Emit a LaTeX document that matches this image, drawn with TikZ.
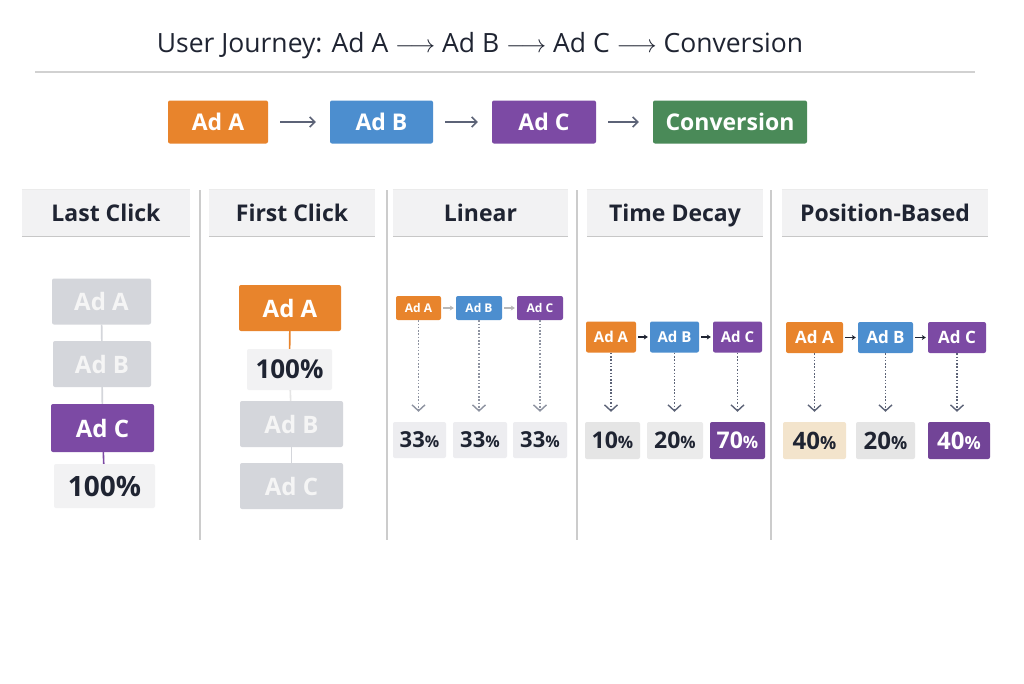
\documentclass[tikz,border=0pt]{standalone}
\usepackage{fontspec}
\setmainfont{Open Sans}
\usetikzlibrary{arrows.meta}

\definecolor{adorange}{HTML}{E8842C}
\definecolor{adblue}{HTML}{4C8ECF}
\definecolor{adpurple}{HTML}{7C4AA4}
\definecolor{convgreen}{HTML}{4A8A58}
\definecolor{idle}{HTML}{D4D6DB}
\definecolor{headgray}{HTML}{F2F2F3}
\definecolor{pctgray}{HTML}{EDEDF0}
\definecolor{beige}{HTML}{F3E4CC}
\definecolor{ink}{HTML}{1F2432}
\definecolor{arrowgray}{HTML}{5C6377}

\newcommand\smallpct[1]{{\fontsize{#1}{#1}\selectfont\%}}

\begin{document}
\begin{tikzpicture}[x=1pt,y=-1pt,
    ad/.style={rounded corners=2pt,inner sep=0pt,text=white},
    top/.style={ad,minimum height=43pt,font=\fontsize{23}{25}\selectfont\bfseries},
    big/.style={ad,minimum width=102pt,minimum height=46pt,font=\fontsize{24}{26}\selectfont\bfseries},
    mini/.style={ad,minimum height=24pt,font=\fontsize{12}{13}\selectfont\bfseries},
    small/.style={ad,minimum height=31pt,font=\fontsize{15}{16}\selectfont\bfseries},
    pct/.style={rounded corners=2pt,inner sep=0pt,fill=pctgray,text=ink,minimum height=37pt,font=\fontsize{23}{25}\selectfont\bfseries},
    head/.style={fill=headgray,text=ink,minimum height=46pt,inner sep=0pt,text height=18pt,text depth=1.6pt,font=\fontsize{23}{25}\selectfont\bfseries},
    flow/.style={draw=arrowgray,line width=1.6pt,-{Straight Barb[length=5pt,width=10pt]},shorten <=12pt,shorten >=14pt},
    hop/.style={line width=1.3pt,-{Stealth[length=4pt,width=5pt]},shorten <=2pt,shorten >=2pt},
    drop/.style={line width=1.2pt,dash pattern=on 1.5pt off 1.8pt,-{Straight Barb[length=6pt,width=13pt,line width=1.4pt]},shorten >=10pt},
    tail/.style={line width=1.6pt,draw=idle}]

  \useasboundingbox (0,0) rectangle (1024,683);
  \fill[white] (0,0) rectangle (1024,683);

  % journey
  \node (title) at (480,46) [font=\fontsize{26.5}{29}\selectfont,text=ink]
    {User Journey: Ad A $\longrightarrow$ Ad B $\longrightarrow$ Ad C $\longrightarrow$ Conversion};
  \draw[draw=black!18,line width=1.2pt] (35,72) -- (975,72);

  \node (jA) at (218,122) [top,fill=adorange,minimum width=100pt] {Ad A};
  \node (jB) at (381.5,122) [top,fill=adblue,minimum width=103pt] {Ad B};
  \node (jC) at (544,122) [top,fill=adpurple,minimum width=104pt] {Ad C};
  \node (jConv) at (730,122) [top,fill=convgreen,minimum width=154pt] {Conversion};
  \draw[flow] (jA) -- (jB);
  \draw[flow] (jB) -- (jC);
  \draw[flow] (jC) -- (jConv);

  % column heads
  \node (hLast) at (106,213) [head,minimum width=168pt] {Last Click};
  \node (hFirst) at (292,213) [head,minimum width=166pt] {First Click};
  \node (hLin) at (480.5,213) [head,minimum width=175pt] {Linear};
  \node (hTime) at (675,213) [head,minimum width=176pt] {Time Decay};
  \node (hPos) at (885,213) [head,minimum width=206pt] {Position-Based};
  \foreach \h in {hLast,hFirst,hLin,hTime,hPos}{
    \draw[draw=black!22,line width=1.2pt] (\h.south west) -- (\h.south east);
    \draw[draw=black!8,line width=1pt] (\h.north west) -- (\h.north east);
  }
  \foreach \x in {200,387,577,771}
    \draw[draw=black!20,line width=1.2pt] (\x,190) -- (\x,540);

  % last click
  \node (lA) at (101.5,301.5) [big,fill=idle,text=white!96!black,minimum width=99pt] {Ad A};
  \node (lB) at (102,364) [big,fill=idle,text=white!96!black,minimum width=98pt] {Ad B};
  \node (lC) at (102.5,428) [big,fill=adpurple,minimum width=103pt,minimum height=48pt] {Ad C};
  \node (lP) at (104.5,486) [pct,fill=headgray,minimum width=101pt,minimum height=44pt,font=\fontsize{28}{30}\selectfont\bfseries] {100\%};
  \draw[tail] (lA) -- (lB);
  \draw[tail] (lB) -- (lC);
  \draw[tail,draw=adpurple] (lC) -- (lP);

  % first click
  \node (fA) at (290,308) [big,fill=adorange] {Ad A};
  \node (fP) at (289.5,369.5) [pct,fill=headgray,minimum width=85pt,minimum height=41pt,font=\fontsize{26}{28}\selectfont\bfseries] {100\%};
  \node (fB) at (291.5,424) [big,fill=idle,text=white!96!black,minimum width=103pt] {Ad B};
  \node (fC) at (291.5,486) [big,fill=idle,text=white!96!black,minimum width=103pt] {Ad C};
  \draw[tail,draw=adorange] (fA) -- (fP);
  \draw[tail,draw=black!10] (fP) -- (fB);
  \draw[tail] (fB) -- (fC);

  % linear
  \node (nA) at (418.5,308) [mini,fill=adorange,minimum width=45pt] {Ad A};
  \node (nB) at (479,308) [mini,fill=adblue,minimum width=46pt] {Ad B};
  \node (nC) at (540,308) [mini,fill=adpurple,minimum width=46pt] {Ad C};
  \node (nP1) at (419.5,440) [pct,minimum width=53pt,minimum height=36pt,font=\fontsize{22}{24}\selectfont\bfseries] {33\smallpct{16}};
  \node (nP2) at (480,440) [pct,minimum width=54pt,minimum height=36pt,font=\fontsize{22}{24}\selectfont\bfseries] {33\smallpct{16}};
  \node (nP3) at (540,440) [pct,minimum width=54pt,minimum height=36pt,font=\fontsize{22}{24}\selectfont\bfseries] {33\smallpct{16}};
  \draw[hop,draw=black!28] (nA) -- (nB);
  \draw[hop,draw=black!28] (nB) -- (nC);
  \foreach \i in {1,2,3}{
    \ifcase\i\or\def\src{nA}\or\def\src{nB}\or\def\src{nC}\fi
    \draw[drop,draw=arrowgray!70] (\src) -- (\src.south |- nP\i.north);
  }

  % time decay
  \node (tA) at (611,337) [small,fill=adorange,minimum width=50pt] {Ad A};
  \node (tB) at (674.5,337) [small,fill=adblue,minimum width=49pt] {Ad B};
  \node (tC) at (737.5,337) [small,fill=adpurple,minimum width=49pt] {Ad C};
  \node (tP1) at (612.5,440.5) [pct,fill=black!10,minimum width=55pt] {10\smallpct{17}};
  \node (tP2) at (675,440.5) [pct,fill=black!8,minimum width=56pt] {20\smallpct{17}};
  \node (tP3) at (737.5,440.5) [pct,fill=adpurple!92!black,text=white,minimum width=55pt] {70\smallpct{17}};
  \draw[hop,draw=ink] (tA) -- (tB);
  \draw[hop,draw=ink] (tB) -- (tC);
  \draw[drop,draw=arrowgray] (tA) -- (tA.south |- tP1.north);
  \draw[drop,draw=arrowgray] (tB) -- (tB.south |- tP2.north);
  \draw[drop,draw=arrowgray] (tC) -- (tC.south |- tP3.north);

  % position based
  \node (pA) at (814.5,337.5) [small,fill=adorange,minimum width=57pt,font=\fontsize{17}{18}\selectfont\bfseries] {Ad A};
  \node (pB) at (885.5,337.5) [small,fill=adblue,minimum width=55pt,font=\fontsize{17}{18}\selectfont\bfseries] {Ad B};
  \node (pC) at (957,337.5) [small,fill=adpurple,minimum width=58pt,font=\fontsize{17}{18}\selectfont\bfseries] {Ad C};
  \node (pP1) at (814.5,440.5) [pct,fill=beige,minimum width=63pt,font=\fontsize{24}{26}\selectfont\bfseries] {40\smallpct{18}};
  \node (pP2) at (885.5,440.5) [pct,fill=black!10,minimum width=59pt,font=\fontsize{24}{26}\selectfont\bfseries] {20\smallpct{18}};
  \node (pP3) at (959,440.5) [pct,fill=adpurple!92!black,text=white,minimum width=62pt,font=\fontsize{24}{26}\selectfont\bfseries] {40\smallpct{18}};
  \draw[hop,draw=ink] (pA) -- (pB);
  \draw[hop,draw=ink] (pB) -- (pC);
  \draw[drop,draw=arrowgray] (pA) -- (pA.south |- pP1.north);
  \draw[drop,draw=arrowgray] (pB) -- (pB.south |- pP2.north);
  \draw[drop,draw=arrowgray] (pC) -- (pC.south |- pP3.north);
\end{tikzpicture}
\end{document}
